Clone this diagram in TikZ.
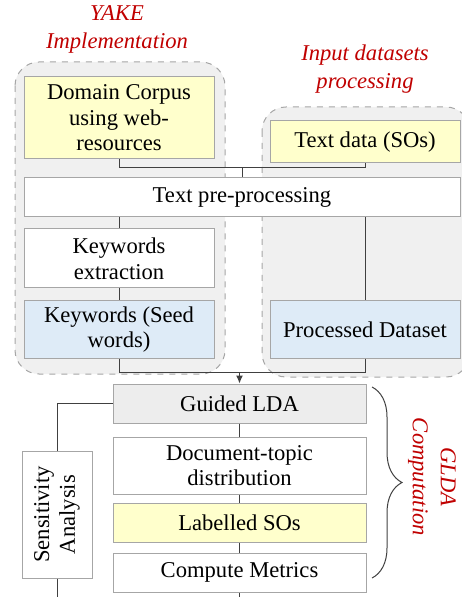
\documentclass[tikz,border=0pt]{standalone}
\usepackage{fontspec}
\setmainfont{Liberation Serif}
\usetikzlibrary{arrows.meta,decorations.pathreplacing}

\definecolor{boxline}{HTML}{A6A6A6}
\definecolor{panel}{HTML}{F0F0F0}
\definecolor{paleyellow}{HTML}{FFFFCC}
\definecolor{paleblue}{HTML}{DEEBF7}
\definecolor{palegray}{HTML}{EDEDED}
\definecolor{titlered}{HTML}{C00000}
\definecolor{wire}{HTML}{404040}

\begin{document}
\begin{tikzpicture}[x=0.5pt, y=-0.5pt,
  font=\fontsize{11.3}{12.8}\selectfont,
  box/.style={draw=boxline, fill=white, align=center, inner sep=0pt, line width=0.5pt},
  panelbox/.style={draw=boxline, fill=panel, dashed, rounded corners=12pt, line width=0.5pt},
  title/.style={text=titlered, font=\fontsize{11.3}{14}\selectfont\itshape, align=center},
  link/.style={draw=wire, line width=0.5pt}]
\useasboundingbox (0,0) rectangle (461,597);

% panels
\draw[panelbox] (15,62) rectangle (225,374);
\draw[panelbox] (262,107) rectangle (470,377);
\node[title] (yaketitle) at (117,29) {YAKE\\Implementation};
\node[title] (inputtitle) at (365,69) {Input datasets\\processing};

% upper boxes
\node[box, fill=paleyellow, minimum width=95pt, minimum height=41pt] (corpus) at (119,118) {Domain Corpus\\using web-\\resources};
\node[box, fill=paleyellow, minimum width=95pt, minimum height=21pt] (textdata) at (365,142) {Text data (SOs)};
\node[box, minimum width=218pt, minimum height=19.5pt] (prep) at (242,197.5) {Text pre-processing};
\node[box, minimum width=95pt, minimum height=29.5pt] (kwextract) at (119,258.5) {Keywords\\extraction};
\node[box, fill=paleblue, minimum width=95pt, minimum height=28.5pt] (seeds) at (119,329.5) {Keywords (Seed\\words)};
\node[box, fill=paleblue, minimum width=95pt, minimum height=28.5pt] (procdata) at (365,329.5) {Processed Dataset};

% lower boxes
\node[box, fill=palegray, minimum width=126.5pt, minimum height=19.5pt] (glda) at (239.5,403.5) {Guided LDA};
\node[box, minimum width=126.5pt, minimum height=28.5pt] (doctopic) at (239.5,465.5) {Document-topic\\distribution};
\node[box, fill=paleyellow, minimum width=126.5pt, minimum height=19.5pt] (labelled) at (239.5,522.5) {Labelled SOs};
\node[box, minimum width=126.5pt, minimum height=19.5pt] (metrics) at (239.5,572.5) {Compute Metrics};
\node[box, rotate=90, minimum width=63.5pt, minimum height=35pt] (sens) at (57,514.5) {Sensitivity\\Analysis};

% joints
\coordinate (topjoin) at (242,168);
\coordinate (lowjoin) at (239.5,372);
\coordinate (metricsend) at (239.5,600);
\coordinate (sensend) at (57,600);

% connectors
\draw[link] (corpus.south) |- (topjoin);
\draw[link] (textdata.south) |- (topjoin);
\draw[link] (topjoin) -- (prep.north);
\draw[link] (kwextract.north |- prep.south) -- (kwextract.north);
\draw[link] (kwextract.south) -- (seeds.north);
\draw[link] (procdata.north |- prep.south) -- (procdata.north);
\draw[link] (seeds.south) |- (lowjoin);
\draw[link] (procdata.south) |- (lowjoin);
\draw[link, -{Latex[length=4pt,width=3.5pt]}] (lowjoin) -- (glda.north);
\draw[link] (glda.south) -- (doctopic.north);
\draw[link] (doctopic.south) -- (labelled.north);
\draw[link] (labelled.south) -- (metrics.north);
\draw[link] (metrics.south) -- (metricsend);
\draw[link] (glda.west) -| (sens.east);
\draw[link] (sens.west) -- (sensend);

% brace
\coordinate (bracetop) at (372,387);
\coordinate (bracebot) at (372,578);
\draw[link, decorate, decoration={brace, amplitude=15pt}] (bracetop) -- (bracebot);
\node[title, rotate=-90] (gldatitle) at (432,477) {GLDA\\Computation};
\end{tikzpicture}
\end{document}
